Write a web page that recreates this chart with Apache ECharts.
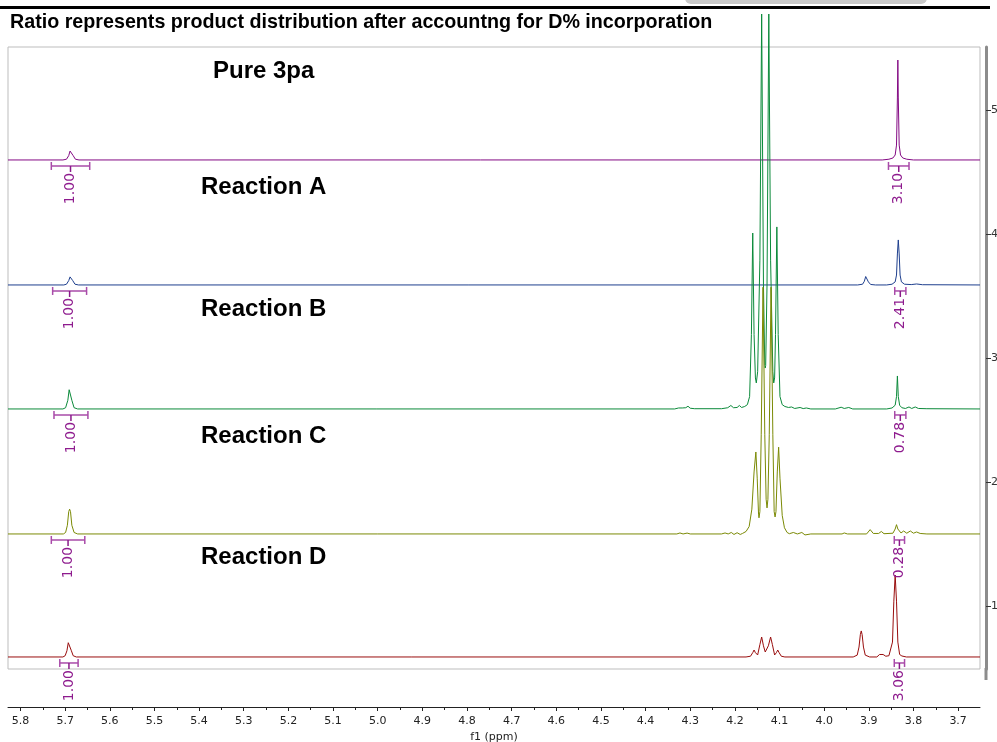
<!DOCTYPE html>
<html>
<head>
<meta charset="utf-8">
<script src="https://cdn.jsdelivr.net/npm/echarts@6/dist/echarts.min.js"></script>
<style>
  html, body { margin: 0; padding: 0; background: #fff; }
  #main { width: 997px; height: 742px; }
</style>
</head>
<body>
<div id="main"></div>
<script>
// stacked 1H spectra, x = ppm, y = right axis units (baseline offset + intensity)
var ppmTicks = [5.8, 5.7, 5.6, 5.5, 5.4, 5.3, 5.2, 5.1, 5.0, 4.9, 4.8, 4.7, 4.6, 4.5, 4.4, 4.3, 4.2, 4.1, 4.0, 3.9, 3.8, 3.7];
var ppmMinorTicks = [5.75, 5.65, 5.55, 5.45, 5.35, 5.25, 5.15, 5.05, 4.95, 4.85, 4.75, 4.65, 4.55, 4.45, 4.35, 4.25, 4.15, 4.05, 3.95, 3.85, 3.75];
var rightTicks = [1, 2, 3, 4, 5];

var spectrumNames = ['Pure 3pa', 'Reaction A', 'Reaction B', 'Reaction C', 'Reaction D'];
var baselines = [4.597, 3.589, 2.589, 1.581, 0.589];
var lineColors = ['#840a84', '#1e3f8e', '#0b8a3a', '#7b8a05', '#990d0d'];

var pure3pa = [
  [5.828, 0], [5.705, 0], [5.697, 0.006], [5.692, 0.035], [5.689, 0.072], [5.687, 0.081], [5.685, 0.072], [5.682, 0.035], [5.677, 0.006], [5.669, 0],
  [3.870, 0], [3.855, 0.006], [3.846, 0.016], [3.841, 0.04], [3.838, 0.12], [3.836, 0.5], [3.835, 0.806], [3.834, 0.5], [3.832, 0.12], [3.829, 0.04], [3.824, 0.016], [3.815, 0.006], [3.800, 0], [3.651, 0]
];
var reactionA = [
  [5.828, 0], [5.703, 0], [5.697, 0.006], [5.692, 0.035], [5.689, 0.065], [5.688, 0.073], [5.686, 0.065], [5.683, 0.035], [5.678, 0.006], [5.670, 0],
  [3.925, 0], [3.914, 0.006], [3.910, 0.03], [3.907, 0.068], [3.906, 0.073], [3.904, 0.06], [3.901, 0.025], [3.896, 0.004], [3.885, 0],
  [3.860, 0], [3.848, 0.006], [3.841, 0.025], [3.838, 0.08], [3.836, 0.25], [3.834, 0.363], [3.832, 0.25], [3.830, 0.08], [3.827, 0.025], [3.820, 0.006], [3.805, 0.003], [3.793, 0.008], [3.780, 0.002], [3.651, 0]
];
var reactionB = [
  [5.828, 0], [5.705, 0], [5.699, 0.01], [5.694, 0.07], [5.691, 0.155], [5.690, 0.169], [5.688, 0.155], [5.685, 0.07], [5.680, 0.01], [5.672, 0],
  [4.335, 0], [4.326, 0.008], [4.322, 0.024], [4.318, 0.008], [4.310, 0.01], [4.305, 0.022], [4.300, 0.006], [4.290, 0.002], [4.230, 0.002],
  [4.216, 0.01], [4.209, 0.028], [4.203, 0.01], [4.195, 0.012], [4.190, 0.028], [4.185, 0.012], [4.178, 0.02], [4.172, 0.035], [4.167, 0.1],
  [4.163, 0.6], [4.160, 1.419], [4.157, 0.6], [4.154, 0.25], [4.152, 0.21], [4.149, 0.3], [4.144, 1.2], [4.140, 3.185], [4.136, 1.0],
  [4.133, 0.35], [4.132, 0.33], [4.131, 0.35], [4.128, 1.0], [4.124, 3.185], [4.120, 1.2], [4.115, 0.3], [4.113, 0.21], [4.111, 0.25],
  [4.109, 0.6], [4.106, 1.468], [4.103, 0.6], [4.099, 0.1], [4.094, 0.035], [4.088, 0.02], [4.080, 0.012],
  [4.073, 0.016], [4.066, 0.004], [4.054, 0.012], [4.047, 0.003], [4.040, 0.008], [4.030, 0], [3.975, 0], [3.962, 0.014], [3.955, 0.004], [3.945, 0.012], [3.936, 0],
  [3.860, 0], [3.848, 0.008], [3.841, 0.03], [3.838, 0.1], [3.836, 0.266], [3.834, 0.1], [3.831, 0.03], [3.826, 0.01], [3.818, 0.004],
  [3.810, 0.016], [3.804, 0.004], [3.796, 0.016], [3.789, 0.004], [3.770, 0.002], [3.651, 0]
];
var reactionC = [
  [5.828, 0], [5.704, 0], [5.699, 0.012], [5.695, 0.07], [5.692, 0.18], [5.690, 0.2], [5.688, 0.18], [5.685, 0.07], [5.680, 0.012], [5.672, 0],
  [4.330, 0], [4.323, 0.008], [4.316, 0], [4.307, 0.007], [4.300, 0], [4.230, 0], [4.222, 0.008], [4.215, 0],
  [4.208, 0.012], [4.202, -0.004], [4.195, 0.01], [4.188, -0.004], [4.183, 0.004], [4.175, 0.02], [4.168, 0.06], [4.162, 0.2], [4.157, 0.5],
  [4.153, 0.661], [4.150, 0.45], [4.147, 0.16], [4.146, 0.13], [4.144, 0.18], [4.141, 0.8], [4.137, 1.99], [4.133, 0.8], [4.130, 0.28],
  [4.128, 0.21], [4.126, 0.28], [4.123, 0.8], [4.119, 1.99], [4.115, 0.8], [4.112, 0.18], [4.110, 0.137], [4.108, 0.18], [4.105, 0.5],
  [4.102, 0.70], [4.099, 0.45], [4.094, 0.15], [4.089, 0.05], [4.083, 0.012], [4.078, 0.002], [4.069, 0.012], [4.060, 0], [4.050, 0.012],
  [4.043, -0.008], [4.030, 0], [3.960, 0], [3.955, 0.008], [3.948, 0], [3.905, 0], [3.897, 0.035], [3.890, 0.004], [3.878, 0.004],
  [3.872, 0.02], [3.866, 0.002], [3.846, 0.006], [3.841, 0.04], [3.838, 0.075], [3.835, 0.04], [3.828, 0.008], [3.822, 0.024],
  [3.815, 0.006], [3.807, 0.024], [3.800, 0.006], [3.793, 0.016], [3.785, 0.004], [3.770, 0], [3.651, 0]
];
var reactionD = [
  [5.828, 0], [5.705, 0], [5.700, 0.01], [5.696, 0.05], [5.693, 0.115], [5.691, 0.13], [5.689, 0.115], [5.686, 0.05], [5.682, 0.01], [5.675, 0],
  [4.175, 0], [4.165, 0.006], [4.160, 0.035], [4.157, 0.056], [4.154, 0.035], [4.149, 0.016], [4.144, 0.1], [4.140, 0.161], [4.136, 0.09],
  [4.132, 0.04], [4.129, 0.04], [4.125, 0.09], [4.120, 0.161], [4.116, 0.1], [4.111, 0.016], [4.107, 0.035], [4.104, 0.056], [4.101, 0.035],
  [4.096, 0.006], [4.088, 0],
  [3.935, 0], [3.926, 0.015], [3.922, 0.08], [3.919, 0.18], [3.917, 0.21], [3.915, 0.18], [3.912, 0.08], [3.908, 0.015], [3.898, 0],
  [3.882, 0], [3.876, 0.02], [3.872, 0.032], [3.868, 0.02], [3.862, 0.006], [3.855, 0.01], [3.851, 0.02], [3.847, 0.12], [3.844, 0.45],
  [3.841, 0.661], [3.838, 0.45], [3.835, 0.12], [3.831, 0.02], [3.826, 0.008], [3.816, 0], [3.651, 0]
];
var spectra = [pure3pa, reactionA, reactionB, reactionC, reactionD];

// integral regions: ppm from / to, spectrum row, value
var integralFrom = [5.731, 5.728, 5.725, 5.731, 5.712, 3.856, 3.842, 3.842, 3.843, 3.843];
var integralTo   = [5.645, 5.652, 5.649, 5.656, 5.671, 3.810, 3.817, 3.817, 3.820, 3.820];
var integralRow  = [0, 1, 2, 3, 4, 0, 1, 2, 3, 4];
var integralText = ['1.00', '1.00', '1.00', '1.00', '1.00', '3.10', '2.41', '0.78', '0.28', '3.06'];

var labelPos = [[213, 71], [201, 187], [201, 309], [201, 436], [201, 557]];

var chart = echarts.init(document.getElementById('main'));

var series = [];
for (var i = 0; i < spectra.length; i++) {
  series.push({
    type: 'line',
    name: spectrumNames[i],
    data: spectra[i].map(function (p) { return [p[0], baselines[i] + p[1]]; }),
    symbol: 'none',
    clip: false,
    silent: true,
    lineStyle: { color: lineColors[i], width: 1 },
    z: 3
  });
}

var intData = [];
for (var k = 0; k < integralFrom.length; k++) {
  intData.push([integralFrom[k], integralTo[k], baselines[integralRow[k]]]);
}

series.push({
  type: 'custom',
  silent: true,
  z: 4,
  encode: { x: [0, 1], y: 2 },
  data: intData,
  renderItem: function (params, api) {
    var p1 = api.coord([api.value(0), api.value(2)]);
    var p2 = api.coord([api.value(1), api.value(2)]);
    var y = p1[1] + 6;
    var xc = (p1[0] + p2[0]) / 2;
    var bc = '#a94ba9';
    return {
      type: 'group',
      children: [
        { type: 'line', shape: { x1: p1[0], y1: y, x2: p2[0], y2: y }, style: { stroke: bc, lineWidth: 1.5 } },
        { type: 'line', shape: { x1: p1[0], y1: y - 4, x2: p1[0], y2: y + 4 }, style: { stroke: bc, lineWidth: 1.5 } },
        { type: 'line', shape: { x1: p2[0], y1: y - 4, x2: p2[0], y2: y + 4 }, style: { stroke: bc, lineWidth: 1.5 } },
        { type: 'line', shape: { x1: xc, y1: y, x2: xc, y2: y + 6 }, style: { stroke: '#8a1a8a', lineWidth: 1.5 } },
        {
          type: 'text', x: xc, y: y + 7, rotation: Math.PI / 2,
          style: {
            text: integralText[params.dataIndex],
            align: 'right', verticalAlign: 'middle',
            fill: '#8e1b8e', font: '14px "DejaVu Sans"'
          }
        }
      ]
    };
  }
});

var graphics = [
  { type: 'rect', shape: { x: 685, y: -10, width: 242, height: 14, r: 6 }, style: { fill: '#c9c9c9' } },
  { type: 'rect', shape: { x: 0, y: 6, width: 990, height: 3 }, style: { fill: '#000' } },
  // right axis bar runs a little past the frame
  { type: 'rect', shape: { x: 984.5, y: 668, width: 3, height: 12 }, style: { fill: '#8c8c8c' } },
  { type: 'text', x: 10, y: 23, style: { text: 'Ratio represents product distribution after accountng for D% incorporation', font: 'bold 19.7px "Liberation Sans"', fill: '#000', verticalAlign: 'middle' } }
];
for (var j = 0; j < spectrumNames.length; j++) {
  graphics.push({ type: 'text', x: labelPos[j][0], y: labelPos[j][1], z: 10, style: { text: spectrumNames[j], font: 'bold 24px "Liberation Sans"', fill: '#000', verticalAlign: 'middle' } });
}

var option = {
  animation: false,
  backgroundColor: '#fff',
  grid: { left: 8, right: 17, top: 47, bottom: 73, outerBoundsMode: 'none', containLabel: false, show: true, borderColor: '#bdbdbd', borderWidth: 1 },
  xAxis: [{
    type: 'value', min: 3.651, max: 5.828, inverse: true, position: 'bottom', offset: 38,
    name: 'f1 (ppm)', nameLocation: 'middle', nameGap: 24,
    nameTextStyle: { fontFamily: 'DejaVu Sans', fontSize: 11, color: '#222' },
    axisLine: { show: true, lineStyle: { color: '#222', width: 1 } },
    axisTick: { show: true, customValues: ppmTicks, length: 4, lineStyle: { color: '#222' } },
    axisLabel: { customValues: ppmTicks, margin: 9, fontFamily: 'DejaVu Sans', fontSize: 11, color: '#222',
      formatter: function (v) { return v.toFixed(1); } },
    splitLine: { show: false }
  }, {
    type: 'value', min: 3.651, max: 5.828, inverse: true, position: 'bottom', offset: 38,
    axisLine: { show: false },
    axisTick: { show: true, customValues: ppmMinorTicks, length: 3, lineStyle: { color: '#222' } },
    axisLabel: { show: false },
    splitLine: { show: false }
  }],
  yAxis: [{
    type: 'value', min: 0.492, max: 5.508, position: 'right', offset: 6,
    axisLine: { show: true, lineStyle: { color: '#8c8c8c', width: 3 } },
    axisTick: { show: true, customValues: rightTicks, length: 5, lineStyle: { color: '#333' } },
    axisLabel: { customValues: rightTicks, margin: 5, fontFamily: 'DejaVu Sans', fontSize: 11, color: '#333' },
    splitLine: { show: false }
  }],
  graphic: graphics,
  series: series
};

chart.setOption(option);
</script>
</body>
</html>
